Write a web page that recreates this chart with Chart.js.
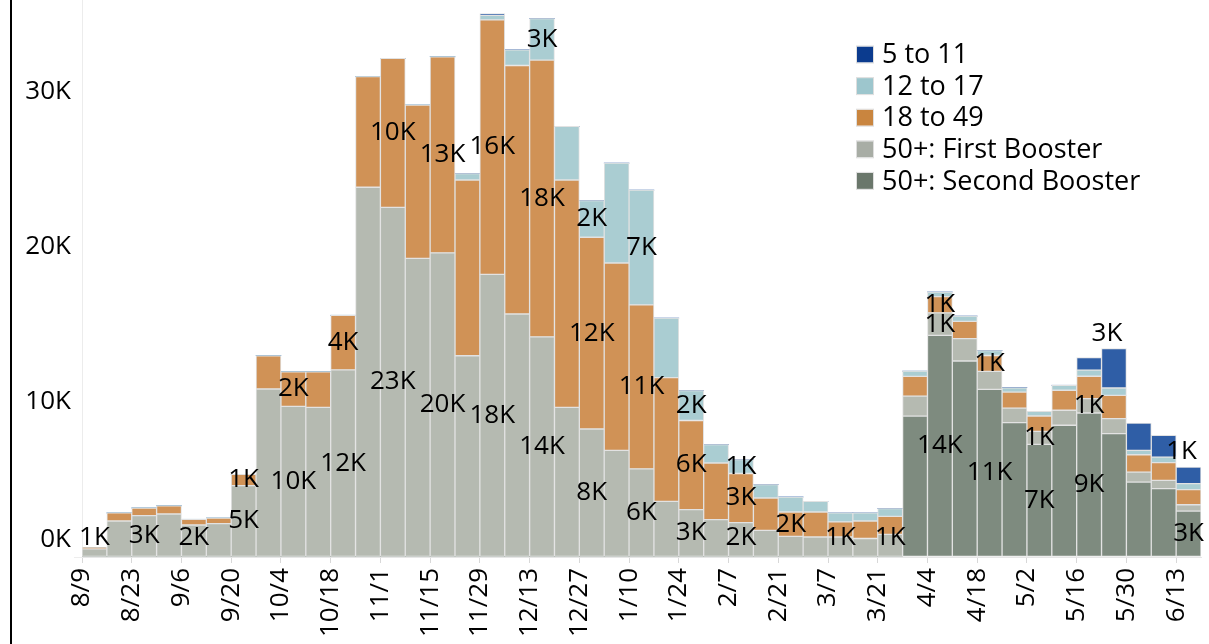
<!DOCTYPE html>
<html lang="en">
<head>
  <meta charset="UTF-8" />
  <title>Weekly booster doses by age group</title>
  <script src="https://cdn.jsdelivr.net/npm/chart.js"></script>
  <style>
    body { margin: 0; background: #fff; }
    #wrap { width: 1209px; height: 644px; }
  </style>
</head>
<body>
  <div id="wrap"><canvas id="boosterChart" width="1209" height="644"></canvas></div>

  <script>
    // week starting dates
    const weeks = ['8/9','8/16','8/23','8/30','9/6','9/13','9/20','9/27','10/4','10/11','10/18','10/25',
      '11/1','11/8','11/15','11/22','11/29','12/6','12/13','12/20','12/27','1/3','1/10','1/17','1/24',
      '1/31','2/7','2/14','2/21','2/28','3/7','3/14','3/21','3/28','4/4','4/11','4/18','4/25','5/2',
      '5/9','5/16','5/23','5/30','6/6','6/13'];
    const yTicks = [0, 10000, 20000, 30000];

    // doses per week, bottom of the stack first
    const secondBooster = [0,0,0,0,0,0,0,0,0,0,0,0,0,0,0,0,0,0,0,0,0,0,0,0,0,0,0,0,0,0,0,0,0,
      9080,14280,12630,10800,8660,7260,8490,9280,7950,4830,4410,2960];
    const firstBooster = [520,2320,2670,2770,2060,2150,4600,10830,9710,9640,12060,23830,22530,19250,
      19600,12970,18220,15660,14190,9640,8250,6870,5680,3590,3050,2410,2220,1720,1330,1290,1290,1190,
      1460,1290,1450,1440,1160,940,840,970,930,970,640,530,410];
    const age18to49 = [100,520,490,530,370,360,730,2140,2230,2300,3520,7130,9610,9880,12640,11330,
      16400,16020,17830,14660,12360,12080,10570,7970,5750,3650,3160,2080,1570,1610,970,1130,1160,1270,
      1050,1120,1030,1030,990,1290,1440,1500,1120,1140,970];
    const age12to17 = [0,0,0,0,0,0,0,0,0,0,0,0,0,0,0,410,300,1010,2690,3450,2370,6440,7400,3840,1930,
      1190,900,860,970,690,580,520,500,340,300,340,320,280,300,320,390,470,280,360,390];
    const age5to11 = [0,0,0,0,0,0,0,0,0,0,0,0,0,0,0,0,100,0,0,0,0,0,0,0,0,0,0,0,0,0,0,0,0,0,0,0,0,0,0,0,
      820,2540,1760,1400,1070];

    // which weeks carry a value label, per series
    const labelSecond = [34, 36, 38, 40, 44];
    const labelFirst = [0, 2, 4, 6, 8, 10, 12, 14, 16, 18, 20, 22, 24, 26, 30, 32, 34, 38, 40];
    const label18 = [6, 8, 10, 12, 14, 16, 18, 20, 22, 24, 26, 28, 34, 36];
    const label12 = [18, 20, 22, 24, 26];
    const label5 = [41, 44];

    const FONT = "'Open Sans', sans-serif";
    Chart.defaults.font.family = FONT;

    const series = [
      { label: '50+: Second Booster', data: secondBooster, color: '#7e8b7f', key: '#6a776b', marks: labelSecond },
      { label: '50+: First Booster', data: firstBooster, color: '#b5bab1', key: '#a8ada5', marks: labelFirst },
      { label: '18 to 49', data: age18to49, color: '#d09256', key: '#c9853f', marks: label18 },
      { label: '12 to 17', data: age12to17, color: '#aacdd2', key: '#9dc6cd', marks: label12 },
      { label: '5 to 11', data: age5to11, color: '#2f5ea6', key: '#0b3b8e', marks: label5, above: true }
    ];

    const kLabel = v => Math.round(v / 1000) + 'K';

    const extras = {
      id: 'extras',
      afterDraw(chart) {
        const ctx = chart.ctx;
        const ys = chart.scales.y;
        ctx.save();

        // dark frame line on the left
        ctx.fillStyle = '#000';
        ctx.fillRect(10, 0, 2, chart.height);

        // y tick labels
        ctx.font = '26px ' + FONT;
        ctx.textAlign = 'right';
        ctx.textBaseline = 'middle';
        yTicks.forEach(v => {
          let y = ys.getPixelForValue(v);
          if (v === 0) y -= 17;
          ctx.fillText(kLabel(v), 71, y);
        });

        // value labels inside the segments
        ctx.textAlign = 'center';
        series.forEach((s, i) => {
          const meta = chart.getDatasetMeta(i);
          s.marks.forEach(idx => {
            const bar = meta.data[idx];
            const p = bar.getProps(['x', 'y', 'base'], true);
            let x = p.x, y = (p.y + p.base) / 2;
            if (s.above) { y = p.y - 15; x -= 7; }
            y = Math.min(y, ys.bottom - 19);
            ctx.fillText(kLabel(s.data[idx]), x, y);
          });
        });

        // legend box
        ctx.fillStyle = '#fff';
        ctx.fillRect(848, 38, 308, 162);
        ctx.font = '27px ' + FONT;
        ctx.textAlign = 'left';
        series.slice().reverse().forEach((s, i) => {
          const cy = 54.5 + i * 31.6;
          ctx.fillStyle = s.key;
          ctx.fillRect(857, cy - 8, 16, 16);
          ctx.strokeStyle = '#dedede';
          ctx.lineWidth = 1;
          ctx.strokeRect(856.5, cy - 8.5, 17, 17);
          ctx.fillStyle = '#000';
          ctx.fillText(s.label, 882, cy + 1);
        });
        ctx.restore();
      }
    };

    new Chart(document.getElementById('boosterChart'), {
      type: 'bar',
      data: {
        labels: weeks,
        datasets: series.map(s => ({
          label: s.label,
          data: s.data,
          backgroundColor: s.color,
          borderColor: '#e2e2e2',
          borderWidth: c => (c.raw > 0 ? 1 : 0),
          borderSkipped: false,
          categoryPercentage: 1,
          barPercentage: 1
        }))
      },
      options: {
        responsive: false,
        devicePixelRatio: 1,
        animation: false,
        layout: { padding: { left: 0, right: 8, top: 0, bottom: 0 } },
        plugins: { legend: { display: false }, tooltip: { enabled: false } },
        scales: {
          x: {
            stacked: true,
            afterFit: s => { s.height = 87; s.paddingLeft = 0; s.paddingRight = 0; },
            border: { color: '#e6e6e6' },
            grid: {
              offset: true,
              drawOnChartArea: false,
              tickLength: 6,
              color: c => (c.index % 2 === 0 ? '#d8d8d8' : 'rgba(0,0,0,0)')
            },
            ticks: {
              autoSkip: false,
              minRotation: 90,
              maxRotation: 90,
              labelOffset: -12.4,
              padding: 5,
              color: '#000',
              font: { size: 26 },
              callback: (v, i) => (i % 2 === 0 ? weeks[i] : '')
            }
          },
          y: {
            stacked: true,
            min: 0,
            max: 35900,
            afterFit: s => { s.width = 82; s.paddingTop = 0; s.paddingBottom = 0; },
            border: { color: '#ececec' },
            grid: {
              tickLength: 8,
              color: c => (c.tick && c.tick.value % 10000 === 0 ? '#ededed' : 'rgba(0,0,0,0)')
            },
            ticks: { stepSize: 10000, display: false }
          }
        }
      },
      plugins: [extras]
    });
  </script>
</body>
</html>
